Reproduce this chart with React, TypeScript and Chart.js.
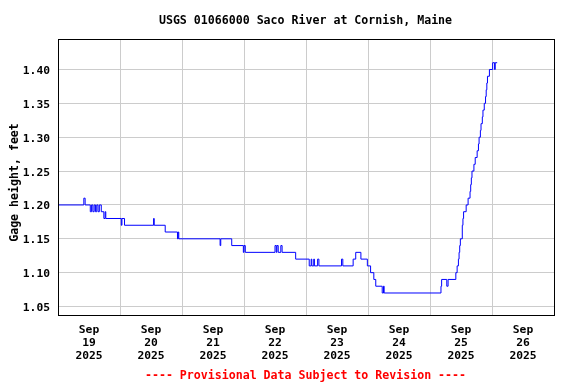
import React, { useEffect, useRef } from 'react';
import { Chart, registerables } from 'chart.js';

Chart.register(...registerables);

const chartTitle = 'USGS 01066000 Saco River at Cornish, Maine';
const yAxisLabel = 'Gage height, feet';
const provisionalNote = '---- Provisional Data Subject to Revision ----';
const tickMonth = 'Sep';
const tickDays = ['19', '20', '21', '22', '23', '24', '25', '26'];
const tickYear = '2025';
const yTickValues = [1.05, 1.1, 1.15, 1.2, 1.25, 1.3, 1.35, 1.4];

// hours since 2025-09-19 00:00; each value holds until the next time
const hoursFromStart = [
  0, 10, 10.5, 12.5, 13, 13.5, 14, 14.5, 15, 15.5, 16, 16.75, 17.75, 18.25, 18.5,
  24.5, 24.75, 25.75, 37, 37.25, 41.5, 46.25, 46.5, 46.75,
  62.75, 63, 67.25, 71.75, 72, 72.5, 84, 84.5, 84.75, 85.25, 86.25, 86.75,
  92, 97.25, 98, 98.25, 99, 99.25, 100.5, 101, 109.75, 110.25,
  114.25, 115.25, 117.25, 119.75, 121, 122.25, 123, 125.5, 126, 126.25,
  148.25, 148.5, 150.5, 151,
  154, 154.5, 155, 155.25, 155.5, 155.75, 156.5, 156.75, 157, 158, 158.75, 159.5,
  159.75, 160, 160.25, 161, 161.5, 162.25, 162.75, 163, 163.5, 163.75, 164.25,
  164.5, 165, 165.5, 165.75, 166, 166.25, 167, 168.25, 169, 169.25, 170,
];
const gageHeightFt = [
  1.2, 1.21, 1.2, 1.19, 1.2, 1.19, 1.2, 1.19, 1.2, 1.19, 1.2, 1.19, 1.18, 1.19, 1.18,
  1.17, 1.18, 1.17, 1.18, 1.17, 1.16, 1.15, 1.16, 1.15,
  1.14, 1.15, 1.14, 1.13, 1.14, 1.13, 1.14, 1.13, 1.14, 1.13, 1.14, 1.13,
  1.12, 1.11, 1.12, 1.11, 1.12, 1.11, 1.12, 1.11, 1.12, 1.11,
  1.12, 1.13, 1.12, 1.11, 1.1, 1.09, 1.08, 1.07, 1.08, 1.07,
  1.08, 1.09, 1.08, 1.09,
  1.1, 1.11, 1.12, 1.13, 1.14, 1.15, 1.17, 1.18, 1.19, 1.2, 1.21, 1.22,
  1.23, 1.24, 1.25, 1.26, 1.27, 1.28, 1.29, 1.3, 1.31, 1.32, 1.33,
  1.34, 1.35, 1.36, 1.37, 1.38, 1.39, 1.4, 1.41, 1.4, 1.41, 1.41,
];

const MONO = '"DejaVu Sans Mono", "Liberation Mono", monospace';

const textPlugin = {
  id: 'usgsFrameAndText',
  afterDraw(chart: any) {
    const { ctx, chartArea: a } = chart;
    ctx.save();
    ctx.strokeStyle = '#000000';
    ctx.lineWidth = 1;
    const l = Math.round(a.left) + 0.5;
    const t = Math.round(a.top) + 0.5;
    const r = Math.round(a.right) + 0.5;
    const b = Math.round(a.bottom) + 0.5;
    ctx.strokeRect(l, t, r - l, b - t);

    ctx.font = `bold 11.6px ${MONO}`;
    ctx.textAlign = 'center';
    ctx.textBaseline = 'alphabetic';
    ctx.fillStyle = '#000000';
    ctx.fillText(chartTitle, 305.5, 24);

    ctx.fillStyle = '#ff0000';
    ctx.fillText(provisionalNote, 305.5, 378.5);

    ctx.fillStyle = '#000000';
    ctx.translate(17.5, 182.5);
    ctx.rotate(-Math.PI / 2);
    ctx.fillText(yAxisLabel, 0, 0);
    ctx.restore();
  },
};

export default function App() {
  const canvasRef = useRef<HTMLCanvasElement | null>(null);

  useEffect(() => {
    if (!canvasRef.current) return;
    const points = hoursFromStart.map((h, i) => ({ x: h, y: gageHeightFt[i] }));
    const tickFont = { family: MONO, size: 11.3, weight: 'bold' as const, lineHeight: 1.18 };

    const chart = new Chart(canvasRef.current, {
      type: 'line',
      data: {
        datasets: [
          {
            data: points,
            borderColor: '#0000ff',
            borderWidth: 1,
            pointRadius: 0,
            stepped: true,
            fill: false,
          },
        ],
      },
      options: {
        animation: false,
        responsive: false,
        events: [],
        layout: { padding: { top: 39, right: 22, left: 0, bottom: 0 } },
        plugins: {
          legend: { display: false },
          tooltip: { enabled: false },
          title: { display: false },
        },
        scales: {
          x: {
            type: 'linear',
            min: 0,
            max: 192,
            afterFit: (scale: any) => {
              scale.height = 69;
            },
            afterBuildTicks: (scale: any) => {
              const ticks = [];
              for (let h = 0; h <= 192; h += 12) ticks.push({ value: h });
              scale.ticks = ticks;
            },
            border: { display: false },
            grid: {
              drawTicks: false,
              lineWidth: 1,
              color: (ctx: any) =>
                ctx.tick && ctx.tick.value % 24 === 0 ? '#cccccc' : 'rgba(0,0,0,0)',
            },
            ticks: {
              autoSkip: false,
              maxRotation: 0,
              minRotation: 0,
              padding: 8,
              color: '#000000',
              font: tickFont,
              callback: (value: any) => {
                const v = Number(value);
                if (v % 24 === 12) {
                  return [tickMonth, tickDays[(v - 12) / 24], tickYear];
                }
                return '';
              },
            },
          },
          y: {
            type: 'linear',
            min: 1.0375,
            max: 1.445,
            afterFit: (scale: any) => {
              scale.width = 58;
            },
            afterBuildTicks: (scale: any) => {
              scale.ticks = yTickValues.map((v) => ({ value: v }));
            },
            border: { display: false },
            grid: {
              drawTicks: false,
              color: '#cccccc',
              lineWidth: 1,
            },
            ticks: {
              padding: 8,
              labelOffset: 1.5,
              color: '#000000',
              font: { family: MONO, size: 11.3, weight: 'bold' as const },
              callback: (value: any) => Number(value).toFixed(2),
            },
          },
        },
      },
      plugins: [textPlugin],
    });

    return () => chart.destroy();
  }, []);

  return (
    <div
      style={{
        position: 'fixed',
        left: 0,
        top: 0,
        width: 576,
        height: 384,
        background: '#ffffff',
      }}
    >
      <canvas ref={canvasRef} width={576} height={384} style={{ display: 'block' }} />
    </div>
  );
}
